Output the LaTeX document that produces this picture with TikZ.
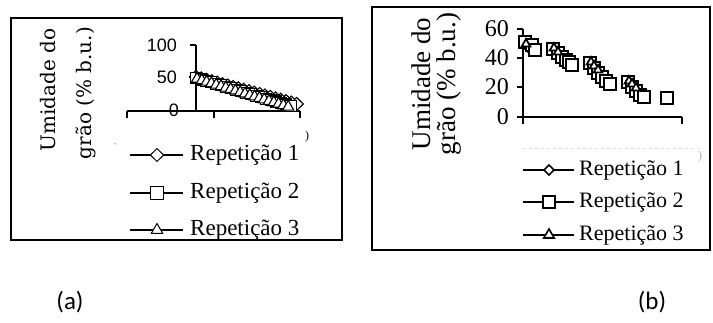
\documentclass[tikz,border=0pt]{standalone}
\usepackage{fontspec}
\setmainfont{Liberation Serif}
\newfontfamily\slabfont{DejaVu Serif}
\newfontfamily\tickfont{Liberation Sans}
\newfontfamily\capfont{Carlito}
\usetikzlibrary{plotmarks}
\tikzset{
  frame/.style={line width=1.6pt},
  axisline/.style={line width=1.1pt},
  legline/.style={line width=1.1pt},
  caption/.style={font=\fontsize{25}{27}\selectfont\capfont},
  repone/.style={mark=diamond*,mark options={fill=white,xscale=1.35}},
  reptwo/.style={mark=square*,mark options={fill=white}},
  repthree/.style={mark=triangle*,mark options={fill=white}},
}

\begin{document}
\begin{tikzpicture}[x=1pt,y=-1pt]
				%%%%% START %%%%%
				\useasboundingbox (0,0) rectangle (713,322);

				% panel (a)
				\def\yax{196}
				\def\xax{111}
				\draw[frame] (11,18) rectangle (342,240);

				\node[rotate=90,font=\slabfont\fontsize{20}{22}\selectfont] (titlea1) at (48,90) {Umidade do};
				\node[rotate=90,font=\slabfont\fontsize{20}{22}\selectfont] (titlea2) at (86,93) {grão (\% b.u.)};

				\draw[axisline] (\yax,45) -- (\yax,\xax);
				\draw[axisline] (\yax-6,45) -- (\yax,45);
				\draw[axisline] (\yax-6,77.5) -- (\yax,77.5);
				\draw[axisline] (127,\xax) -- (300,\xax);
				\foreach \tx in {127,214,300}
					\draw[axisline] (\tx,\xax) -- (\tx,\xax+7);

				\node[anchor=east,inner sep=0pt,font=\tickfont\fontsize{18}{20}\selectfont] (ya100) at (177,45) {100};
				\node[anchor=east,inner sep=0pt,font=\tickfont\fontsize{18}{20}\selectfont] (ya50) at (177,77) {50};
				\node[anchor=east,inner sep=0pt,font=\tickfont\fontsize{18}{20}\selectfont] (ya0) at (179,110) {0};

				\draw[line width=1.1pt] plot[only marks,repone,mark size=6.5pt,domain=0:19,samples=20] ({\yax+\x*5.3},{77+\x*1.42});
				\draw[line width=1.1pt] plot[only marks,reptwo,mark size=5.5pt,domain=0:19,samples=20] ({\yax+\x*5},{78+\x*1.47});
				\draw[line width=1.1pt] plot[only marks,repthree,mark size=6.5pt,domain=0:19,samples=20] ({\yax+1+\x*4.8},{79+\x*1.47});

				\node[font=\fontsize{9}{10}\selectfont,gray] (dasha) at (115,145) {-};
				\node[font=\fontsize{12}{13}\selectfont] (parena) at (307,137) {)};

				\foreach \r/\y/\m in {1/155/repone,2/193/reptwo,3/230/repthree} {
					\node[anchor=west,inner sep=0pt,font=\fontsize{23}{25}\selectfont] (lega\r) at (190,\y) {Repetição \r};
					\draw[legline] (130,\y) -- (183,\y);
					\draw[line width=1pt] plot[only marks,\m,mark size=6.5pt] coordinates {(157,\y)};
				}

				\node[caption] (capa) at (70,302) {(a)};

				% panel (b)
				\def\ybx{523}
				\def\xbx{117}
				\draw[frame] (372,7) rectangle (710,250);

				\node[rotate=90,font=\fontsize{27}{29}\selectfont] (titleb1) at (421,84) {Umidade do};
				\node[rotate=90,font=\fontsize{27}{29}\selectfont] (titleb2) at (449,84) {grão (\% b.u.)};

				\draw[axisline] (\ybx,29) -- (\ybx,\xbx) -- (682,\xbx);
				\foreach \ty/\tl in {29/60,58/40,87/20,117/0} {
					\draw[axisline] (\ybx-6,\ty) -- (\ybx,\ty);
					\node[anchor=east,inner sep=0pt,font=\fontsize{24}{26}\selectfont] (yb\tl) at (509,\ty) {\tl};
				}
				\foreach \tx in {523,682}
					\draw[axisline] (\tx,\xbx) -- (\tx,\xbx+7);

				\draw[line width=2.2pt] plot[only marks,repone,mark size=5.5pt] coordinates {
					(528,46) (556,51) (560,55) (564,59) (592,66) (596,70) (600,75) (604,79) (630,85) (634,89) (638,93)};
				\draw[line width=2.4pt] plot[only marks,reptwo,mark size=6pt] coordinates {
					(525,42) (532,45) (535,50) (553,49) (558,53) (562,57) (566,60) (569,62) (572,65)
					(590,63) (594,68) (598,73) (602,77) (606,81) (610,84)
					(628,82) (632,87) (636,91) (640,95) (644,97) (667,98)};
				\draw[line width=1.8pt] plot[only marks,repthree,mark size=5pt] coordinates {
					(526,44) (554,48) (558,52) (591,62) (594,66) (598,70) (629,81) (632,84) (636,88)};

				\draw[gray!25,dashed,line width=0.8pt] (523,148) -- (703,148);
				\node[font=\fontsize{12}{13}\selectfont,gray!60] (parenb) at (700,157) {)};

				\foreach \r/\y/\m/\s in {1/170/repone/5pt,2/202/reptwo/6pt,3/235/repthree/6pt} {
					\node[anchor=west,inner sep=0pt,font=\fontsize{22}{24}\selectfont] (legb\r) at (579,\y) {Repetição \r};
					\draw[line width=1.8pt] (523,\y) -- (574,\y);
					\draw[line width=1.6pt] plot[only marks,\m,mark size=\s] coordinates {(549,\y)};
				}

				\node[caption] (capb) at (652,302) {(b)};
				%%%%% START %%%%%
			\end{tikzpicture}
\end{document}
